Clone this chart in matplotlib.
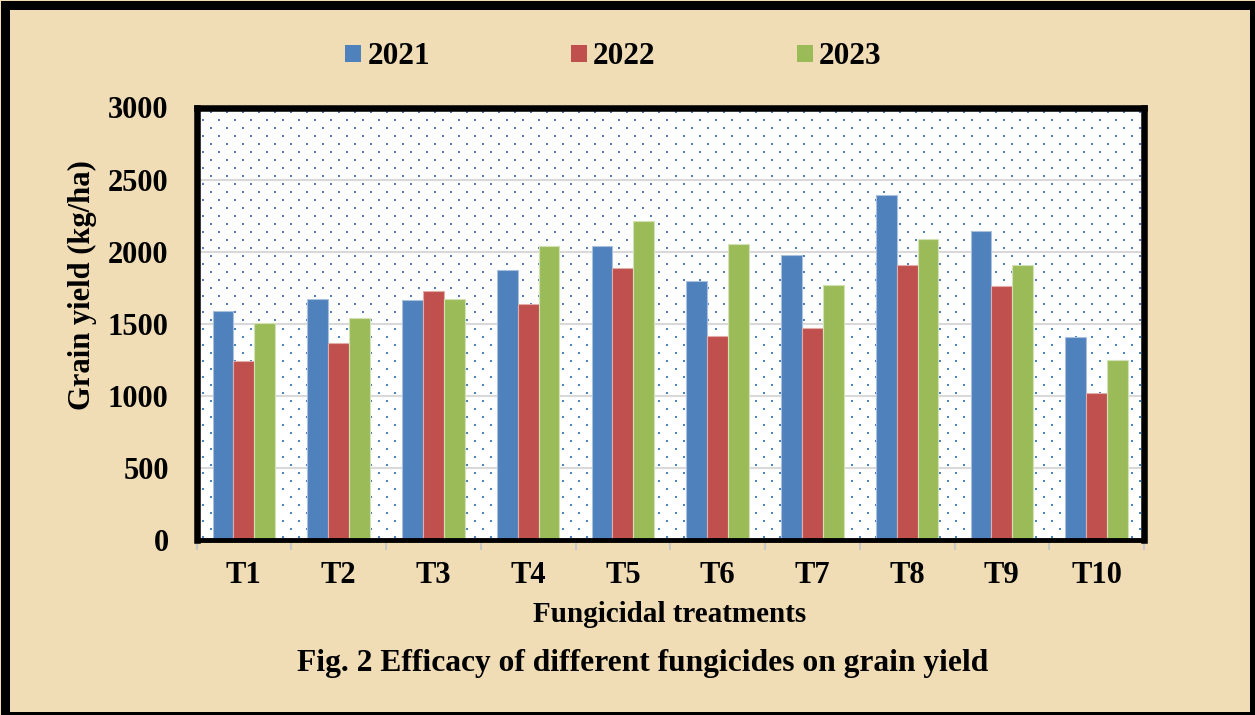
import numpy as np
import matplotlib
matplotlib.use("Agg")
import matplotlib.pyplot as plt
from matplotlib.patches import Patch, Rectangle

# ---- data ----
treatments = ["T1", "T2", "T3", "T4", "T5", "T6", "T7", "T8", "T9", "T10"]
years = ["2021", "2022", "2023"]
yield_2021 = [1590, 1675, 1665, 1870, 2040, 1800, 1975, 2395, 2140, 1410]
yield_2022 = [1240, 1365, 1727, 1635, 1890, 1412, 1470, 1908, 1760, 1020]
yield_2023 = [1502, 1540, 1675, 2042, 2215, 2050, 1768, 2088, 1905, 1250]
yticks = [0, 500, 1000, 1500, 2000, 2500, 3000]

colors = ["#4F81BD", "#C0504D", "#9BBB59"]
edges = ["#A9C1DF", "#E2ACAB", "#D2E2B5"]
paper = "#F0DDB6"

plt.rcParams["font.family"] = ["Liberation Serif", "DejaVu Serif"]
plt.rcParams["font.weight"] = "bold"

W, H = 1255, 715
fig = plt.figure(figsize=(W / 100, H / 100), dpi=100)
fig.patch.set_facecolor(paper)

# outer black frame
fig.patches.append(Rectangle((4.5 / W, -0.5 / H), (W - 1.5 - 4.5) / W, (H - 4.5 + 0.5) / H,
                             transform=fig.transFigure, fill=False,
                             edgecolor="black", linewidth=9 * 0.72, zorder=10))

# plot area
ax_l, ax_r, ax_t, ax_b = 196.5, 1144, 107.5, 540
ax = fig.add_axes([ax_l / W, 1 - ax_b / H, (ax_r - ax_l) / W, (ax_b - ax_t) / H])

# dotted white background (blue dots, staggered)
pw, ph = int(ax_r - ax_l), int(ax_b - ax_t)
bg = np.ones((ph, pw, 3))
dot = np.array([0x4F, 0x81, 0xBD]) / 255
for r, yy in enumerate(range(4, ph, 8)):
    start = 13 if r % 2 == 0 else 5
    for xx in range(start, pw, 16):
        bg[yy:yy + 2, xx:xx + 2] = dot
ax.imshow(bg, extent=[0, 1, 0, 1], transform=ax.transAxes, aspect="auto",
          interpolation="nearest", zorder=0)

x = np.arange(len(treatments))
bw = 0.22
series = [yield_2021, yield_2022, yield_2023]
for i, vals in enumerate(series):
    ax.bar(x + (i - 1) * bw, vals, width=bw, color=colors[i], edgecolor=edges[i],
           linewidth=0.8, zorder=3)

ax.set_xlim(-0.5, len(treatments) - 0.5)
ax.set_ylim(0, 3000)
ax.set_yticks(yticks)
ax.set_yticklabels([str(v) for v in yticks], fontsize=22, fontweight="bold")
ax.set_xticks(x)
ax.set_xticklabels(treatments, fontsize=22, fontweight="bold")
ax.set_xticks(np.arange(len(treatments) + 1) - 0.5, minor=True)
ax.tick_params(axis="y", length=0, pad=20)
ax.tick_params(axis="x", which="major", length=0, pad=15)
ax.tick_params(axis="x", which="minor", length=7, width=1.5, color="#C8C8C8", direction="out")

ax.grid(axis="y", color="#D9D9D9", linewidth=1.5, zorder=1)
ax.set_axisbelow(True)
for side in ["left", "top", "right"]:
    ax.spines[side].set_linewidth(4.7)
ax.spines["bottom"].set_linewidth(3.5)
for s in ax.spines.values():
    s.set_color("black")
    s.set_zorder(5)

# legend
handles = [Patch(facecolor=c, edgecolor="none") for c in colors]
fig.legend(handles, years, loc="center left", bbox_to_anchor=(345 / W, 1 - 57 / H),
           ncol=3, frameon=False, prop={"weight": "bold", "size": 22.5},
           handlelength=0.52, handleheight=0.43, handletextpad=0.2,
           columnspacing=4.5, borderpad=0, borderaxespad=0)

# axis titles and caption
fig.text(82 / W, 1 - 285 / H, "Grain yield (kg/ha)", rotation=90, ha="center", va="center",
         fontsize=22, fontweight="bold")
fig.text(670 / W, 1 - 614 / H, "Fungicidal treatments", ha="center", va="center",
         fontsize=21, fontweight="bold")
fig.text(643 / W, 1 - 664 / H, "Fig. 2 Efficacy of different fungicides on grain yield",
         ha="center", va="center", fontsize=22.7, fontweight="bold")

fig.savefig("out.png", dpi=100, facecolor=fig.get_facecolor())
